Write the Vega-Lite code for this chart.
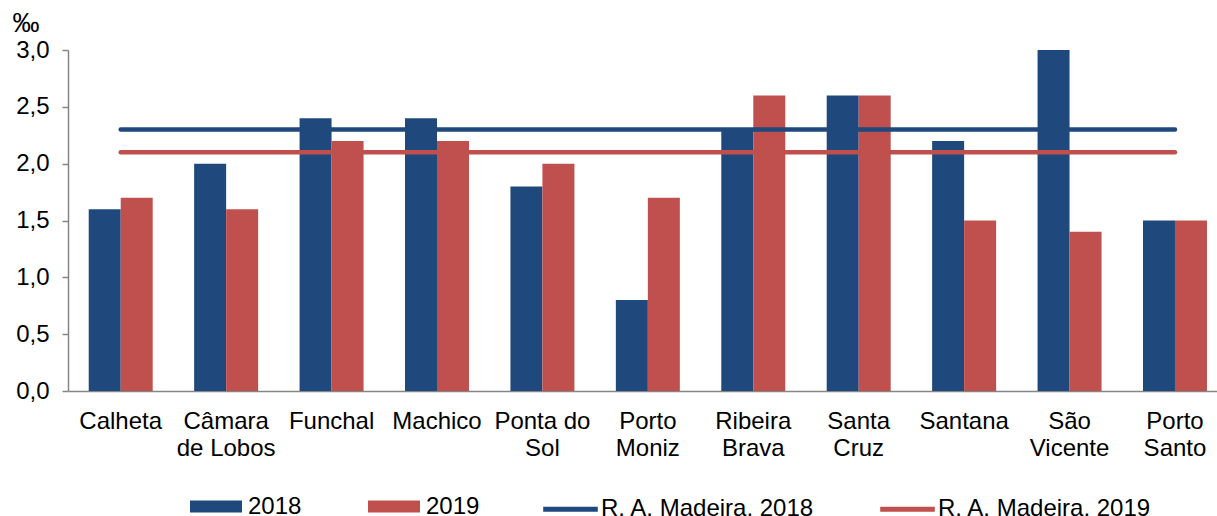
{
  "$schema": "https://vega.github.io/schema/vega-lite/v6.json",
  "autosize": {"type": "none"},
  "padding": {"left": 68, "top": 50, "right": 0, "bottom": 125},
  "width": 1149,
  "height": 341,
  "background": "white",
  "config": {
    "view": {"stroke": null},
    "font": "Liberation Sans",
    "axis": {"labelFont": "Liberation Sans", "labelFontSize": 24, "labelColor": "black", "domainColor": "#868686", "tickColor": "#868686", "domainWidth": 1.5, "tickWidth": 1.5, "grid": false}
  },
  "layer": [
    {
      "data": {"values": [
        {"municipality": "Calheta", "series": "2018", "value": 1.6},
        {"municipality": "Calheta", "series": "2019", "value": 1.7},
        {"municipality": "Câmara de Lobos", "series": "2018", "value": 2.0},
        {"municipality": "Câmara de Lobos", "series": "2019", "value": 1.6},
        {"municipality": "Funchal", "series": "2018", "value": 2.4},
        {"municipality": "Funchal", "series": "2019", "value": 2.2},
        {"municipality": "Machico", "series": "2018", "value": 2.4},
        {"municipality": "Machico", "series": "2019", "value": 2.2},
        {"municipality": "Ponta do Sol", "series": "2018", "value": 1.8},
        {"municipality": "Ponta do Sol", "series": "2019", "value": 2.0},
        {"municipality": "Porto Moniz", "series": "2018", "value": 0.8},
        {"municipality": "Porto Moniz", "series": "2019", "value": 1.7},
        {"municipality": "Ribeira Brava", "series": "2018", "value": 2.3},
        {"municipality": "Ribeira Brava", "series": "2019", "value": 2.6},
        {"municipality": "Santa Cruz", "series": "2018", "value": 2.6},
        {"municipality": "Santa Cruz", "series": "2019", "value": 2.6},
        {"municipality": "Santana", "series": "2018", "value": 2.2},
        {"municipality": "Santana", "series": "2019", "value": 1.5},
        {"municipality": "São Vicente", "series": "2018", "value": 3.0},
        {"municipality": "São Vicente", "series": "2019", "value": 1.4},
        {"municipality": "Porto Santo", "series": "2018", "value": 1.5},
        {"municipality": "Porto Santo", "series": "2019", "value": 1.5}
      ]},
      "mark": {"type": "bar"},
      "encoding": {
        "x": {
          "field": "municipality", "type": "nominal",
          "sort": ["Calheta", "Câmara de Lobos", "Funchal", "Machico", "Ponta do Sol", "Porto Moniz", "Ribeira Brava", "Santa Cruz", "Santana", "São Vicente", "Porto Santo"],
          "scale": {"paddingInner": 0.393, "paddingOuter": 0.1458, "align": 0.674},
          "axis": {
            "title": null, "labelAngle": 0, "ticks": false, "labelPadding": 18, "labelLineHeight": 27,
            "labelExpr": "datum.value == 'Câmara de Lobos' ? ['Câmara', 'de Lobos'] : datum.value == 'Ponta do Sol' ? ['Ponta do', 'Sol'] : split(datum.value, ' ')"
          }
        },
        "xOffset": {"field": "series", "type": "nominal", "scale": {"domain": ["2018", "2019"], "paddingInner": 0, "paddingOuter": 0}},
        "y": {
          "field": "value", "type": "quantitative",
          "scale": {"domain": [0, 3], "nice": false},
          "axis": {
            "values": [0, 0.5, 1, 1.5, 2, 2.5, 3], "tickSize": 6, "labelPadding": 13,
            "labelExpr": "replace(format(datum.value, '.1f'), '.', ',')",
            "title": "‰", "titleAngle": 0, "titleAlign": "left", "titleBaseline": "alphabetic",
            "titleX": -56, "titleY": -18.5, "titleFontSize": 27, "titleFontWeight": "normal", "titleFont": "Liberation Sans", "titleColor": "black"
          }
        },
        "color": {
          "field": "series", "type": "nominal",
          "scale": {"domain": ["2018", "2019"], "range": ["#1F497D", "#C0504D"]},
          "legend": {
            "orient": "none", "legendX": 122, "legendY": 430.5, "direction": "horizontal", "title": null,
            "padding": 0, "symbolSize": 2704, "symbolType": "M-1,-0.23H1V0.23H-1Z", "symbolStrokeWidth": 0,
            "labelFontSize": 24, "labelFont": "Liberation Sans", "labelColor": "black",
            "labelOffset": 6, "labelLimit": 400, "columnPadding": 66, "symbolOpacity": 1
          }
        }
      }
    },
    {
      "data": {"values": [
        {"municipality": "Calheta", "series": "R. A. Madeira, 2018", "value": 2.3},
        {"municipality": "Câmara de Lobos", "series": "R. A. Madeira, 2018", "value": 2.3},
        {"municipality": "Funchal", "series": "R. A. Madeira, 2018", "value": 2.3},
        {"municipality": "Machico", "series": "R. A. Madeira, 2018", "value": 2.3},
        {"municipality": "Ponta do Sol", "series": "R. A. Madeira, 2018", "value": 2.3},
        {"municipality": "Porto Moniz", "series": "R. A. Madeira, 2018", "value": 2.3},
        {"municipality": "Ribeira Brava", "series": "R. A. Madeira, 2018", "value": 2.3},
        {"municipality": "Santa Cruz", "series": "R. A. Madeira, 2018", "value": 2.3},
        {"municipality": "Santana", "series": "R. A. Madeira, 2018", "value": 2.3},
        {"municipality": "São Vicente", "series": "R. A. Madeira, 2018", "value": 2.3},
        {"municipality": "Porto Santo", "series": "R. A. Madeira, 2018", "value": 2.3},
        {"municipality": "Calheta", "series": "R. A. Madeira, 2019", "value": 2.1},
        {"municipality": "Câmara de Lobos", "series": "R. A. Madeira, 2019", "value": 2.1},
        {"municipality": "Funchal", "series": "R. A. Madeira, 2019", "value": 2.1},
        {"municipality": "Machico", "series": "R. A. Madeira, 2019", "value": 2.1},
        {"municipality": "Ponta do Sol", "series": "R. A. Madeira, 2019", "value": 2.1},
        {"municipality": "Porto Moniz", "series": "R. A. Madeira, 2019", "value": 2.1},
        {"municipality": "Ribeira Brava", "series": "R. A. Madeira, 2019", "value": 2.1},
        {"municipality": "Santa Cruz", "series": "R. A. Madeira, 2019", "value": 2.1},
        {"municipality": "Santana", "series": "R. A. Madeira, 2019", "value": 2.1},
        {"municipality": "São Vicente", "series": "R. A. Madeira, 2019", "value": 2.1},
        {"municipality": "Porto Santo", "series": "R. A. Madeira, 2019", "value": 2.1}
      ]},
      "mark": {"type": "line", "strokeWidth": 4.5, "strokeCap": "round"},
      "encoding": {
        "x": {"field": "municipality", "type": "nominal", "sort": ["Calheta", "Câmara de Lobos", "Funchal", "Machico", "Ponta do Sol", "Porto Moniz", "Ribeira Brava", "Santa Cruz", "Santana", "São Vicente", "Porto Santo"]},
        "y": {"field": "value", "type": "quantitative"},
        "stroke": {
          "field": "series", "type": "nominal",
          "scale": {"domain": ["R. A. Madeira, 2018", "R. A. Madeira, 2019"], "range": ["#1F497D", "#C0504D"]},
          "legend": {
            "orient": "none", "legendX": 474, "legendY": 430.5, "direction": "horizontal", "title": null,
            "padding": 0, "symbolSize": 2704, "symbolType": "M-1.05,0H1.05", "symbolStrokeWidth": 5,
            "labelFontSize": 24, "labelFont": "Liberation Sans", "labelColor": "black",
            "labelOffset": 2, "labelLimit": 400, "columnPadding": 55, "symbolOpacity": 1
          }
        }
      }
    }
  ]
}
